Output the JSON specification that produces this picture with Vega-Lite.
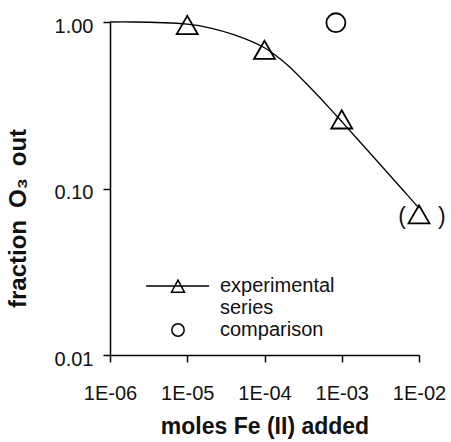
{
  "$schema": "https://vega.github.io/schema/vega-lite/v6.json",
  "width": 309,
  "height": 333,
  "autosize": {"type": "none"},
  "padding": {"left": 110, "top": 22, "right": 32, "bottom": 87},
  "background": "white",
  "config": {
    "view": {"stroke": null},
    "font": "Liberation Sans",
    "axis": {
      "grid": false,
      "domainColor": "black",
      "domainWidth": 1.5,
      "tickColor": "black",
      "tickWidth": 1.5,
      "tickSize": 7,
      "labelFont": "Liberation Sans",
      "labelFontSize": 20,
      "labelColor": "#111",
      "labelOverlap": false,
      "labelFlush": false,
      "labelBound": false,
      "titleFont": "Liberation Sans",
      "titleFontWeight": "bold",
      "titleFontSize": 23,
      "titleColor": "#111"
    }
  },
  "datasets": {
    "points": [
      {"x": 0.00001, "y": 0.96, "series": "experimental series"},
      {"x": 0.0001, "y": 0.68, "series": "experimental series"},
      {"x": 0.001, "y": 0.26, "series": "experimental series"},
      {"x": 0.01, "y": 0.070, "series": "experimental series"},
      {"x": 0.00084, "y": 0.99, "series": "comparison"}
    ],
    "curve": [
      {"x": 0.000001, "y": 1.0},
      {"x": 0.000002, "y": 1.0},
      {"x": 0.000005, "y": 0.99},
      {"x": 0.00001, "y": 0.97},
      {"x": 0.00002, "y": 0.92},
      {"x": 0.00004, "y": 0.84},
      {"x": 0.00007, "y": 0.76},
      {"x": 0.0001, "y": 0.70},
      {"x": 0.00014, "y": 0.63},
      {"x": 0.0002, "y": 0.55},
      {"x": 0.0003, "y": 0.458},
      {"x": 0.0005, "y": 0.3585},
      {"x": 0.0007, "y": 0.303},
      {"x": 0.001, "y": 0.2526},
      {"x": 0.0015, "y": 0.2046},
      {"x": 0.002, "y": 0.1762},
      {"x": 0.003, "y": 0.1427},
      {"x": 0.005, "y": 0.1094},
      {"x": 0.007, "y": 0.0918},
      {"x": 0.01, "y": 0.0763}
    ],
    "note": [
      {"x": 0.01, "y": 0.070, "label": "(\u00a0\u00a0\u00a0\u00a0\u00a0)"}
    ]
  },
  "layer": [
    {
      "data": {"name": "curve"},
      "mark": {"type": "line", "color": "black", "strokeWidth": 1.3, "interpolate": "natural"},
      "encoding": {
        "x": {
          "field": "x", "type": "quantitative",
          "scale": {"type": "log", "domain": [0.000001, 0.01], "nice": false},
          "axis": {
            "values": [0.000001, 0.00001, 0.0001, 0.001, 0.01],
            "labelExpr": "'1E-0' + round(-log(datum.value)/LN10)",
            "labelPadding": 21,
            "title": "moles Fe (II) added",
            "titleY": 78,
            "titleBaseline": "alphabetic"
          }
        },
        "y": {
          "field": "y", "type": "quantitative",
          "scale": {"type": "log", "domain": [0.01, 1], "nice": false},
          "axis": {
            "values": [0.01, 0.1, 1],
            "format": ".2f",
            "labelPadding": 10,
            "labelOffset": 4,
            "title": "fraction\u2002O\u2083\u2002out",
            "titleFontSize": 24,
            "titleAngle": -90,
            "titleX": -85,
            "titleY": 196,
            "titleAlign": "center",
            "titleBaseline": "alphabetic"
          }
        }
      }
    },
    {
      "data": {"name": "points"},
      "transform": [{"filter": "datum.series == 'experimental series'"}],
      "mark": {"type": "point", "shape": "triangle-up", "filled": false, "color": "black", "strokeWidth": 1.8, "opacity": 1, "size": 440},
      "encoding": {
        "x": {"field": "x", "type": "quantitative"},
        "y": {"field": "y", "type": "quantitative"}
      }
    },
    {
      "data": {"name": "points"},
      "transform": [{"filter": "datum.series == 'comparison'"}],
      "mark": {"type": "point", "shape": "circle", "filled": false, "color": "black", "strokeWidth": 1.8, "opacity": 1, "size": 360},
      "encoding": {
        "x": {"field": "x", "type": "quantitative"},
        "y": {"field": "y", "type": "quantitative"}
      }
    },
    {
      "data": {"name": "points"},
      "mark": {"type": "point", "filled": false, "color": "black", "strokeWidth": 1.5, "opacity": 0, "size": 169},
      "encoding": {
        "x": {"field": "x", "type": "quantitative"},
        "y": {"field": "y", "type": "quantitative"},
        "shape": {
          "field": "series", "type": "nominal",
          "scale": {
            "domain": ["experimental series", "comparison"],
            "range": ["M-4.9,0H4.8M0,-0.9L1,0.95L-1,0.95Z", "M0.95,0A0.95,0.95,0,1,1,-0.95,0A0.95,0.95,0,1,1,0.95,0Z"]
          },
          "legend": {
            "title": null,
            "orient": "none",
            "legendX": 58,
            "legendY": 254,
            "padding": 0,
            "symbolSize": 169,
            "symbolOpacity": 1,
            "symbolStrokeColor": "black",
            "symbolStrokeWidth": 1.5,
            "symbolFillColor": "transparent",
            "labelFont": "Liberation Sans",
            "labelFontSize": 20,
            "labelColor": "#111",
            "labelOffset": 32,
            "labelLimit": 0,
            "rowPadding": 2,
            "labelExpr": "datum.label == 'experimental series' ? ['experimental', 'series'] : datum.label"
          }
        }
      }
    },
    {
      "data": {"name": "note"},
      "mark": {"type": "text", "fontSize": 23, "font": "Liberation Sans", "color": "#111", "dx": 3, "dy": 3, "baseline": "middle", "align": "center"},
      "encoding": {
        "x": {"field": "x", "type": "quantitative"},
        "y": {"field": "y", "type": "quantitative"},
        "text": {"field": "label"}
      }
    }
  ]
}
